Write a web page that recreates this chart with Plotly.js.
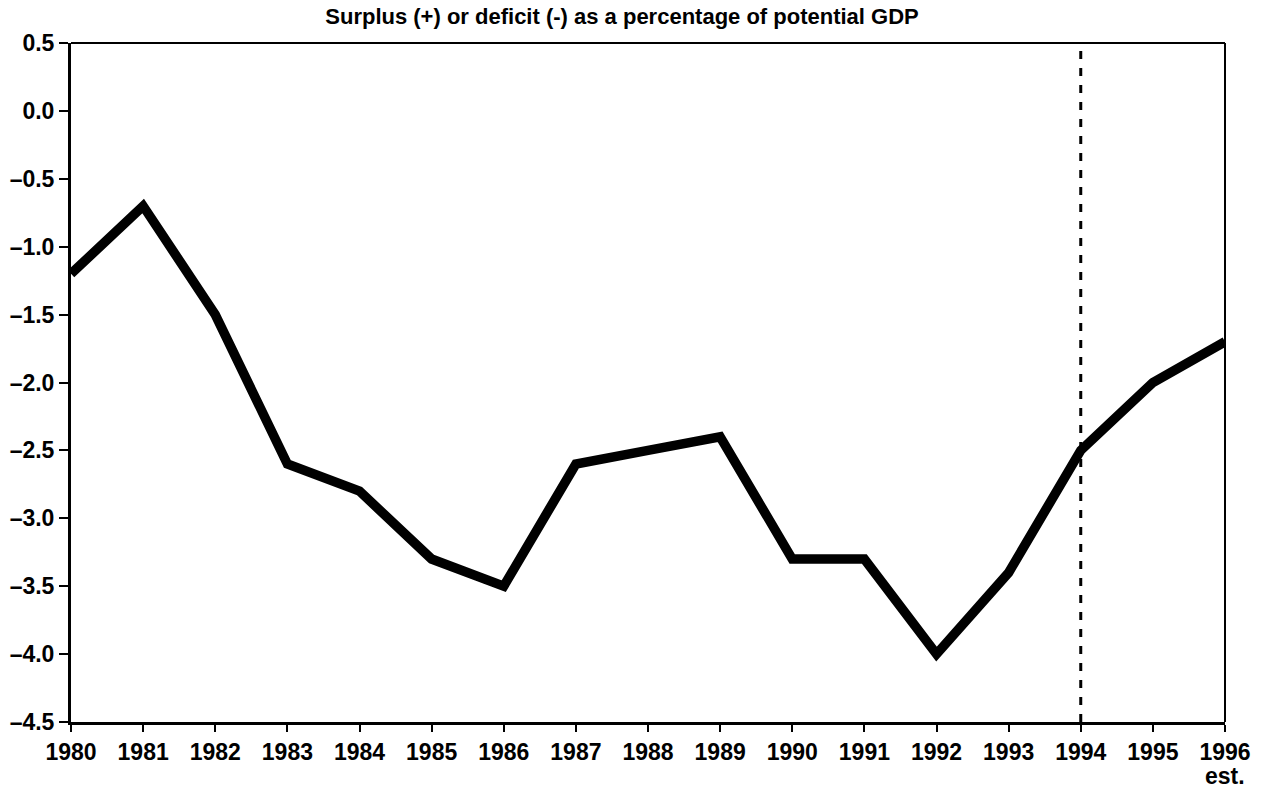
<!DOCTYPE html>
<html>
<head>
<meta charset="utf-8">
<script src="https://cdn.plot.ly/plotly-3.0.1.min.js"></script>
<style>html,body{margin:0;padding:0;background:#fff;}#chart{width:1263px;height:791px;}</style>
</head>
<body>
<div id="chart"></div>
<script>
const years = [1980,1981,1982,1983,1984,1985,1986,1987,1988,1989,1990,1991,1992,1993,1994,1995,1996];
const balance = [-1.2,-0.7,-1.5,-2.6,-2.8,-3.3,-3.5,-2.6,-2.5,-2.4,-3.3,-3.3,-4.0,-3.4,-2.5,-2.0,-1.7];
const yTicks = [0.5,0.0,-0.5,-1.0,-1.5,-2.0,-2.5,-3.0,-3.5,-4.0,-4.5];
const yTickText = ["0.5","0.0","–0.5","–1.0","–1.5","–2.0","–2.5","–3.0","–3.5","–4.0","–4.5"];
const estimateStart = 1994;
const titleText = "Surplus (+) or deficit (-) as a percentage of potential GDP";
const font = "Liberation Sans, Arial, sans-serif";

const traces = [{
  x: years, y: balance, type: 'scatter', mode: 'lines',
  line: {color: '#000', width: 9.5, shape: 'linear'},
  hoverinfo: 'skip', showlegend: false
}];

const layout = {
  width: 1263, height: 791,
  margin: {l: 71, r: 38, t: 43, b: 69},
  paper_bgcolor: '#fff', plot_bgcolor: '#fff',
  font: {family: font, color: '#000'},
  title: {text: titleText, font: {family: font, size: 22, weight: 'bold', color: '#000'}, x: 0.4925, xanchor: 'center', y: 0.989, yanchor: 'top'},
  xaxis: {
    range: [1980, 1996], tickmode: 'array', tickvals: years, ticktext: years.map(String),
    showgrid: false, zeroline: false, showline: true, linewidth: 3, linecolor: '#000',
    ticks: 'outside', ticklen: 7, tickwidth: 2, tickcolor: '#000',
    tickfont: {family: font, size: 23, weight: 'bold', color: '#000'}, fixedrange: true
  },
  yaxis: {
    range: [-4.5, 0.5], tickmode: 'array', tickvals: yTicks, ticktext: yTickText,
    showgrid: false, zeroline: false, showline: true, linewidth: 3, linecolor: '#000',
    ticks: 'outside', ticklen: 9, tickwidth: 2, tickcolor: '#000',
    tickfont: {family: font, size: 23, weight: 'bold', color: '#000'}, fixedrange: true
  },
  shapes: [
    {type: 'line', xref: 'paper', yref: 'paper', x0: 0, x1: 1, y0: 1, y1: 1, line: {color: '#000', width: 2}},
    {type: 'line', xref: 'paper', yref: 'paper', x0: 1, x1: 1, y0: 0, y1: 1, line: {color: '#000', width: 2}},
    {type: 'line', xref: 'x', yref: 'paper', x0: estimateStart, x1: estimateStart, y0: 0, y1: 1, line: {color: '#000', width: 3, dash: '8px,9px'}}
  ],
  annotations: [
    {text: 'est.', xref: 'x', yref: 'paper', x: 1996, y: 0, yshift: -54, xanchor: 'center', yanchor: 'middle', showarrow: false, font: {family: font, size: 23, weight: 'bold', color: '#000'}}
  ]
};

Plotly.newPlot('chart', traces, layout, {displayModeBar: false, staticPlot: true});
</script>
</body>
</html>
